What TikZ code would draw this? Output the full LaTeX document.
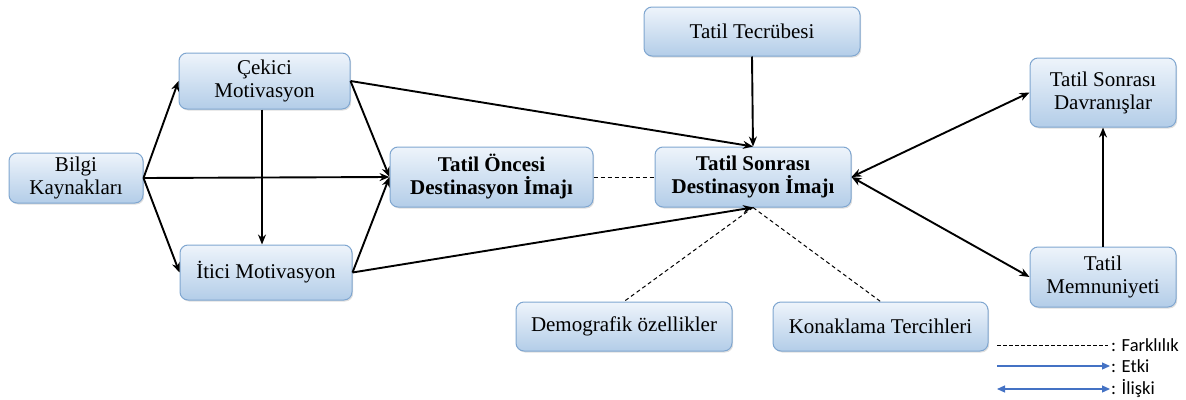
\documentclass[tikz,border=0pt]{standalone}
\usepackage{fontspec}
\setmainfont{Liberation Serif}
\newfontfamily\legendfont{Carlito}
\usetikzlibrary{arrows.meta,shadows}
\definecolor{boxtop}{HTML}{EEF4FB}
\definecolor{boxbot}{HTML}{B3CDE8}
\definecolor{boxline}{HTML}{7FA6D0}
\definecolor{legblue}{HTML}{4472C4}
\begin{document}
\begin{tikzpicture}[x=1pt,y=-1pt,
  box/.style={draw=boxline, line width=1pt, rounded corners=8pt,
    top color=boxtop, bottom color=boxbot, inner sep=0pt, align=center,
    font=\fontsize{21}{23}\selectfont,
    drop shadow={shadow xshift=1.2pt, shadow yshift=-1.5pt, opacity=0.25}},
  bbox/.style={box, font=\fontsize{21}{23}\selectfont\bfseries},
  effect/.style={line width=1.9pt, -{Stealth[length=10pt,width=8pt]}},
  relation/.style={line width=1.9pt, {Stealth[length=10pt,width=8pt]}-{Stealth[length=10pt,width=8pt]}},
  diff/.style={line width=1pt, dash pattern=on 4pt off 3pt},
  legtext/.style={anchor=west, inner sep=0pt, font=\legendfont\fontsize{18.5}{20}\selectfont}]
\useasboundingbox (0,0) rectangle (1186,399);

% boxes
\node[box, minimum width=134pt, minimum height=50pt] (bilgi) at (76,178) {Bilgi\\Kaynakları};
\node[box, minimum width=171pt, minimum height=56pt] (cekici) at (264.5,81) {Çekici\\Motivasyon};
\node[box, minimum width=172pt, minimum height=55pt] (itici) at (266,272.5) {İtici Motivasyon};
\node[bbox, minimum width=203pt, minimum height=60pt] (oncesi) at (491.5,177) {Tatil Öncesi\\Destinasyon İmajı};
\node[bbox, minimum width=196pt, minimum height=60pt] (sonrasi) at (753,177) {Tatil Sonrası\\Destinasyon İmajı};
\node[box, minimum width=216pt, minimum height=49pt] (tecrube) at (752,31.5) {Tatil Tecrübesi};
\node[box, minimum width=146pt, minimum height=69pt] (davranis) at (1103,92.5) {Tatil Sonrası\\Davranışlar};
\node[box, minimum width=146pt, minimum height=60pt] (memnun) at (1103,277) {Tatil\\Memnuniyeti};
\node[box, minimum width=216pt, minimum height=49pt] (demo) at (624,326.5) {Demografik özellikler};
\node[box, minimum width=215pt, minimum height=49pt] (konak) at (880.5,326.5) {Konaklama Tercihleri};

% effects
\draw[effect] (bilgi.east) -- (cekici.west);
\draw[effect] (bilgi.east) -- (itici.west);
\draw[effect] (bilgi.east) -- (oncesi.west);
\draw[effect] (cekici.south -| 262,0) -- (itici.north -| 262,0);
\draw[effect] (cekici.east) -- (oncesi.west);
\draw[effect] (itici.east) -- (oncesi.west);
\draw[effect] (cekici.east) -- (sonrasi.north);
\draw[effect] (itici.east) -- (sonrasi.south);
\draw[effect] (tecrube.south) -- (sonrasi.north);
\draw[effect] (memnun.north) -- (davranis.south);

% relations
\draw[relation] (sonrasi.east) -- (davranis.west);
\draw[relation] (sonrasi.east) -- (memnun.west);

% differences
\draw[diff] (oncesi.east) -- (sonrasi.west);
\draw[diff] (sonrasi.south) -- (demo.north);
\draw[diff] (sonrasi.south) -- (konak.north);

% legend
\coordinate (l1a) at (997,345); \coordinate (l1b) at (1108,345);
\coordinate (l2a) at (997,366); \coordinate (l2b) at (1110,366);
\coordinate (l3a) at (997,389); \coordinate (l3b) at (1110,389);
\draw[line width=1pt, dash pattern=on 3.5pt off 2.5pt] (l1a) -- (l1b);
\draw[legblue, line width=1.2pt, -{Triangle[length=8pt,width=7pt]}] (l2a) -- (l2b);
\draw[legblue, line width=1.2pt, {Triangle[length=8pt,width=7pt]}-{Triangle[length=8pt,width=7pt]}] (l3a) -- (l3b);
\node[legtext] (lt1) at (1111,345) {: Farklılık};
\node[legtext] (lt2) at (1111,366) {: Etki};
\node[legtext] (lt3) at (1111,389) {: İlişki};
\end{tikzpicture}
\end{document}
